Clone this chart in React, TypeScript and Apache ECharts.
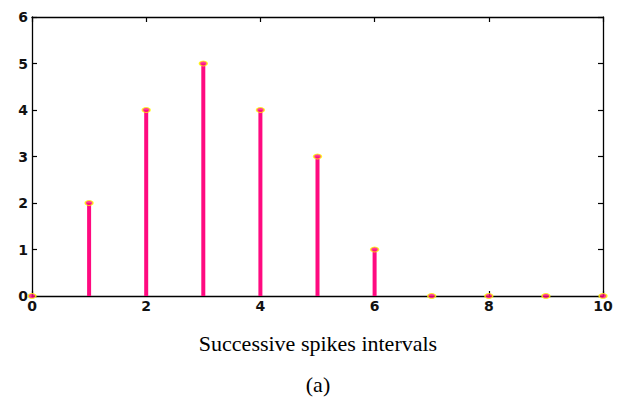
import React, { useEffect, useRef } from "react";
import * as echarts from "echarts";

const intervals = [0, 1, 2, 3, 4, 5, 6, 7, 8, 9, 10];
const counts = [0, 2, 4, 5, 4, 3, 1, 0, 0, 0, 0];
const xTicks = [0, 2, 4, 6, 8, 10];
const xLabel = "Successive spikes intervals";
const subLabel = "(a)";

export default function App() {
  const ref = useRef<HTMLDivElement>(null);
  useEffect(() => {
    if (!ref.current) return;
    const chart = echarts.init(ref.current, null, { renderer: "svg" });
    const pts = intervals.map((x, i) => [x, counts[i]]);
    const axisFont = { fontFamily: "DejaVu Sans", fontSize: 14, fontWeight: "bold" as const, color: "#111" };
    const line = { show: true, onZero: false, lineStyle: { color: "#000", width: 1.3 } };
    const tick = { show: true, inside: true, length: 5, lineStyle: { color: "#000", width: 1.2 } };
    chart.setOption({
      animation: false,
      backgroundColor: "#fff",
      grid: { left: 32, top: 17, width: 571, height: 279, containLabel: false },
      xAxis: [
        {
          type: "value", min: 0, max: 10, interval: 2,
          axisLine: line,
          axisTick: tick,
          axisLabel: { ...axisFont, margin: 3, formatter: (v: number) => (xTicks.includes(v) ? String(v) : "") },
          splitLine: { show: false },
        },
        {
          type: "value", min: 0, max: 10, interval: 2, position: "top",
          axisLine: line,
          axisTick: tick,
          axisLabel: { show: false },
          splitLine: { show: false },
        },
      ],
      yAxis: [
        {
          type: "value", min: 0, max: 6, interval: 1,
          axisLine: line,
          axisTick: tick,
          axisLabel: { ...axisFont, margin: 4 },
          splitLine: { show: false },
        },
        {
          type: "value", min: 0, max: 6, interval: 1, position: "right",
          axisLine: line,
          axisTick: tick,
          axisLabel: { show: false },
          splitLine: { show: false },
        },
      ],
      series: [
        {
          type: "bar",
          data: pts,
          barWidth: 4,
          itemStyle: { color: "#FF0A80" },
          z: 2,
        },
        {
          type: "scatter",
          data: pts,
          symbol: "circle",
          symbolSize: [8, 5],
          itemStyle: { color: "#FF0A80", borderColor: "#FFFF00", borderWidth: 1.2 },
          z: 3,
        },
      ],
      graphic: [
        {
          type: "text", x: 318, y: 343,
          style: { text: xLabel, fontFamily: "Liberation Serif", fontSize: 22, fill: "#000", align: "center", verticalAlign: "middle" },
        },
        {
          type: "text", x: 318, y: 384,
          style: { text: subLabel, fontFamily: "Liberation Serif", fontSize: 22, fill: "#000", align: "center", verticalAlign: "middle" },
        },
      ],
    });
    return () => chart.dispose();
  }, []);
  return <div ref={ref} style={{ position: "absolute", left: 0, top: 0, width: 624, height: 410 }} />;
}
